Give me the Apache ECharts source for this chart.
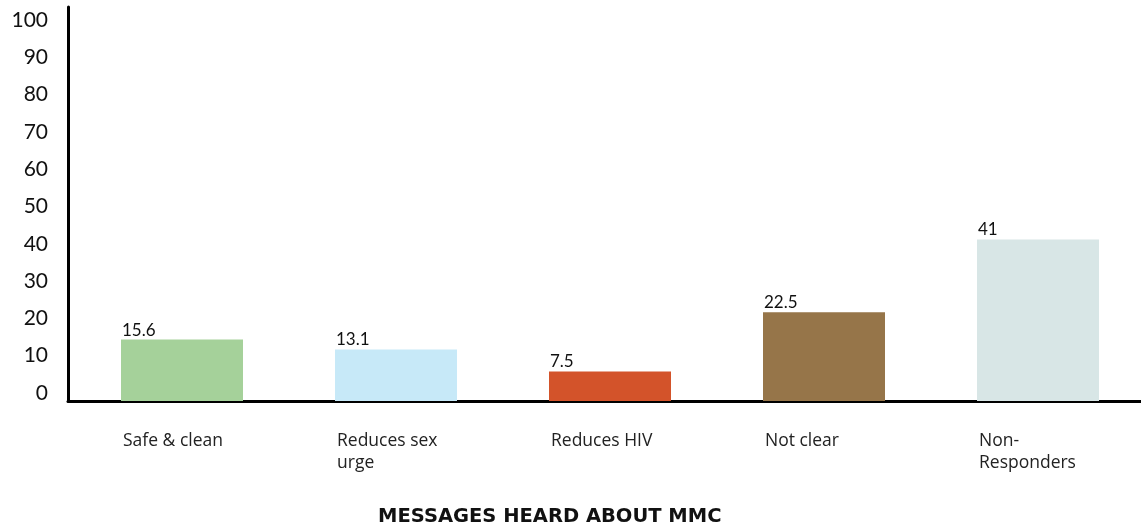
<!DOCTYPE html>
<html>
<head>
<meta charset="utf-8">
<script src="https://cdn.jsdelivr.net/npm/echarts@6/dist/echarts.min.js"></script>
<style>
html,body{margin:0;padding:0;background:#fff;}
#chart{width:1141px;height:526px;}
</style>
</head>
<body>
<div id="chart"></div>
<script>
const categories = ['Safe & clean', 'Reduces sex\nurge', 'Reduces HIV', 'Not clear', 'Non-\nResponders'];
const values = [15.6, 13.1, 7.5, 22.5, 41];
const barColors = ['#a5d19a', '#c7e9f8', '#d3532a', '#967549', '#d8e6e6'];
const yTicks = [0, 10, 20, 30, 40, 50, 60, 70, 80, 90, 100];
const axisTitle = 'MESSAGES HEARD ABOUT MMC';

const FONT = 'Lato, "Noto Sans", sans-serif';
const CAT_FONT = '"Open Sans", "Noto Sans", sans-serif';
const TITLE_FONT = '"DejaVu Sans", "Open Sans", sans-serif';
const chart = echarts.init(document.getElementById('chart'), null, {renderer: 'canvas'});
chart.setOption({
  animation: false,
  backgroundColor: '#ffffff',
  title: {
    text: axisTitle,
    left: 378,
    top: 507,
    padding: 0,
    textStyle: {fontFamily: TITLE_FONT, fontSize: 19.5, fontWeight: 'bold', color: '#111'}
  },
  grid: [
    {left: 75, width: 1070, top: 7, bottom: 125, containLabel: false, outerBoundsMode: 'none'},
    {left: 68, right: 0, top: 20, bottom: 133, containLabel: false, outerBoundsMode: 'none'}
  ],
  xAxis: [
    {
      type: 'category', gridIndex: 0, data: categories,
      axisLine: {show: false}, axisTick: {show: false},
      axisLabel: {
        interval: 0, margin: 29,
        formatter: function (v) {
          return v.split('\n').map(function (s) { return '{a|' + s + '}'; }).join('\n');
        },
        rich: {a: {width: 120, padding: [0, 0, 0, 2], align: 'left', fontFamily: CAT_FONT, fontSize: 17.5, lineHeight: 22, color: '#222'}}
      }
    },
    {
      type: 'value', gridIndex: 1, min: 0, max: 1, offset: 8,
      axisLine: {show: true, onZero: false, lineStyle: {color: '#000', width: 3}},
      axisTick: {show: false}, axisLabel: {show: false}, splitLine: {show: false}
    }
  ],
  yAxis: [
    {
      type: 'value', gridIndex: 0, min: 0, max: 100, interval: 10, offset: 7,
      axisLine: {show: true, lineStyle: {color: '#000', width: 3}},
      axisTick: {show: false}, axisLabel: {show: false}, splitLine: {show: false}
    },
    {
      type: 'value', gridIndex: 1, min: yTicks[0], max: yTicks[yTicks.length - 1], interval: 10,
      axisLine: {show: false}, axisTick: {show: false}, splitLine: {show: false},
      axisLabel: {margin: 20, fontFamily: FONT, fontSize: 21, color: '#111'}
    }
  ],
  series: [{
    type: 'bar', xAxisIndex: 0, yAxisIndex: 0, barWidth: 122,
    data: values.map(function (v, i) { return {value: v, itemStyle: {color: barColors[i]}}; }),
    label: {
      show: true, position: [1, -1], align: 'left', verticalAlign: 'bottom',
      fontFamily: FONT, fontSize: 17, color: '#111'
    }
  }]
});
</script>
</body>
</html>
